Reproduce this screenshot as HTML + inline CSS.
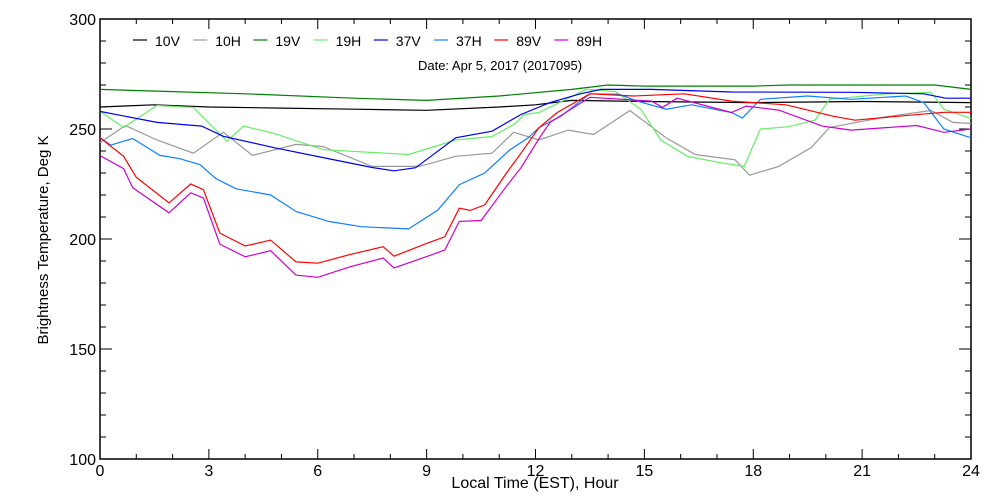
<!DOCTYPE html>
<html><head><meta charset="utf-8"><style>
body{margin:0;background:#fff;}
svg{display:block;font-family:"Liberation Sans",sans-serif;}
</style></head><body>
<svg id="chart" width="1000" height="500">
<g id="axes"></g><g id="series"></g><g id="legend"></g>
<text x="500" y="70" text-anchor="middle" font-size="13">Date: Apr  5, 2017 (2017095)</text>
<text x="535" y="488" text-anchor="middle" font-size="16">Local Time (EST), Hour</text>
<text transform="translate(48,240) rotate(-90)" text-anchor="middle" font-size="15">Brightness Temperature, Deg K</text>
</svg>
<script>
const names=["10V","10H","19V","19H","37V","37H","89V","89H"];
const colors=["#000000","#999999","#008000","#66ee66","#0000ee","#1080ff","#ff0000","#cc00cc"];
const xTicks=[0,3,6,9,12,15,18,21,24];
const yTicks=[100,150,200,250,300];
const h10V=[0,1.5,3,5,7,9,11,12,13,15,18,21,24];
const v10V=[260,261,260,259.5,259,258.5,260,261,263,262.5,262,262.5,262];
const h10H=[0,0.7,1.57,2.57,3.4,4.2,5.4,6.15,7.5,8.8,9.8,10.8,11.4,12.1,12.9,13.6,14.6,15.6,16.4,17.5,17.9,18.7,19.6,20.1,21.7,22.9,23.5,24];
const v10H=[243.8,251.6,245,239,248.5,238,243,242,233,233,237.6,239,248.5,245,249.5,247.5,258.4,246,238.4,236,229,233,241.6,250.7,255.7,258.4,253,252.5];
const h19V=[0,2,4,7,9,11,13,14,15,18,19,23,24];
const v19V=[268,267,266,264,263,265,268,270,269.5,269.5,270,270,268];
const h19H=[0,0.65,1.57,2.57,3.5,3.95,4.8,6.15,8.5,9.8,10.8,11.4,11.7,12.1,13.4,14.2,14.9,15.45,16.2,17.1,17.75,18.2,18.95,19.7,20.1,21.7,22.9,23.25,24];
const v19H=[258,250.7,260.7,259.8,244.4,251.3,248,240.6,238.4,245,246.6,252,256.6,257.5,268,267,259,245,237.5,234.7,233,250,251,254,263.5,266,266.7,259,254.8];
const h37V=[0,1.57,2.8,3.4,4.8,6.15,7.5,8.1,8.7,9.8,10.8,11.6,12.4,13.2,13.8,15.2,17.4,20.7,22.7,23.3,24];
const v37V=[258,253,251.3,246.7,241.5,237,232.5,231,232.4,246,249,256.6,262,265.8,268,268,266.8,266.7,266,264,264];
const h37H=[0,0.3,0.9,1.65,2.2,2.75,3.2,3.75,4.7,5.4,6.3,7.2,8.5,9.3,9.9,10.6,11.3,11.8,12.1,12.7,13.5,14.3,14.8,15.6,16.3,17.4,17.7,18.2,19.5,20.7,22.2,22.7,23.25,24];
const v37H=[246,242.7,245.7,238,236.5,233.8,227.4,222.8,220,212.5,208,205.6,204.6,213,224.7,230,240.6,246,250.7,255.8,266,265.8,262.7,259,261,257.5,255,263.5,265,263.5,265,262,250,246];
const h89V=[0,0.65,1,1.9,2.5,2.85,3.3,4,4.7,5.4,6,6.9,7.8,8.1,9,9.5,9.9,10.2,10.6,11.2,11.6,12.1,12.6,13.5,14.7,16.1,17.4,18.9,20.2,20.8,22,23.25,24];
const v89V=[246,237.6,228,216.4,225,222.4,202.7,196.8,199.5,189.6,189,193,196.5,192.2,198,201,214,213,215.5,230,239,250.7,257.5,266,265,266,262.7,261,255.8,254,255.8,257.6,257.6];
const h89H=[0,0.65,0.9,1.9,2.5,2.85,3.3,4,4.7,5.4,6,6.9,7.8,8.1,9,9.5,9.9,10.5,11.2,11.6,12.1,12.4,13.5,15.2,15.5,15.9,17.4,17.8,18.7,19.9,20.7,22.5,23.25,24];
const v89H=[237.9,232,223.3,211.9,221,218.7,197.7,191.9,194.7,183.6,182.6,187.4,191.3,186.8,192,195,208,208.4,224,232.4,245.7,253,264.4,262.7,259.8,264,257.5,260.4,258.6,251.3,249.5,251.6,248.5,250];
const hours=[h10V,h10H,h19V,h19H,h37V,h37H,h89V,h89H];
const vals=[v10V,v10H,v19V,v19H,v37V,v37H,v89V,v89H];

const NS="http://www.w3.org/2000/svg";
const X0=100,X1=971,Y0=459,Y1=19;
const xs=h=>X0+h*(X1-X0)/24;
const ys=v=>Y0-(v-100)*(Y0-Y1)/200;
function mk(tag,attrs,parent){const e=document.createElementNS(NS,tag);for(const k in attrs)e.setAttribute(k,attrs[k]);parent.appendChild(e);return e;}
const ax=document.getElementById('axes');
const frame=mk('rect',{x:X0,y:Y1,width:X1-X0,height:Y0-Y1,fill:'none',stroke:'#000','stroke-width':1.5},ax);


for(let h=0;h<=24;h++){
  const L=h%3===0?10:5, x=xs(h);
  const t1=mk('line',{x1:x,x2:x,y1:Y0,y2:Y0-L,stroke:'#000'},ax);
  
  
  mk('line',{x1:x,x2:x,y1:Y1,y2:Y1+L,stroke:'#000'},ax);
}
for(let v=100;v<=300;v+=10){
  const L=v%50===0?12:6, y=ys(v);
  const t2=mk('line',{x1:X0,x2:X0+L,y1:y,y2:y,stroke:'#000'},ax);
  
  
  mk('line',{x1:X1,x2:X1-L,y1:y,y2:y,stroke:'#000'},ax);
}
xTicks.forEach(h=>{const t=mk('text',{x:xs(h),y:Y0+17,'text-anchor':'middle','font-size':16},ax);t.textContent=h;
  
  });
yTicks.forEach(v=>{const t=mk('text',{x:X0-4,y:ys(v)+6,'text-anchor':'end','font-size':16},ax);t.textContent=v;
  
  });
const sg=document.getElementById('series');
names.forEach((n,i)=>{
  const d=hours[i].map((h,j)=>(j?'L':'M')+xs(h).toFixed(1)+','+ys(vals[i][j]).toFixed(1)).join('');
  const p=mk('path',{d:d,fill:'none',stroke:colors[i],'stroke-width':1.2},sg);
  
  
});
const lg=document.getElementById('legend');
names.forEach((n,i)=>{
  const x0=133+i*60.2;
  const g=mk('g',{},lg);
  
  
  mk('line',{x1:x0,x2:x0+14,y1:40,y2:40,stroke:colors[i],'stroke-width':1.2},g);
  const t=mk('text',{x:x0+22,y:46,'font-size':14},g);t.textContent=n;
});
</script>
</body></html>
